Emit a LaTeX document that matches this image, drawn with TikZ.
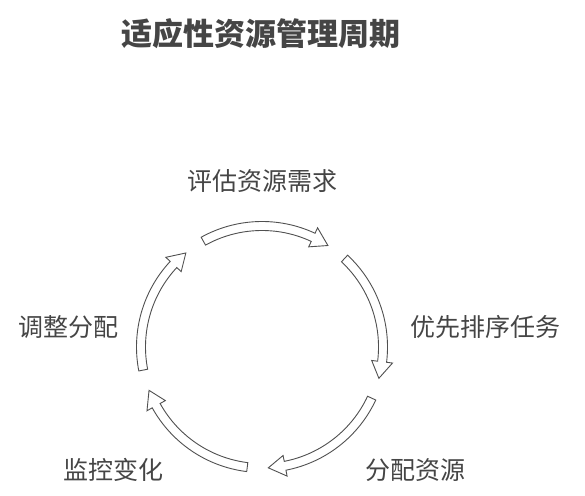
\documentclass[tikz,border=0pt]{standalone}
\usepackage{fontspec}
\setmainfont{Noto Sans CJK SC}
\definecolor{labelgray}{HTML}{454545}
\definecolor{arrowgray}{HTML}{505050}
\tikzstyle{cyclearrow}=[draw=arrowgray,fill=white,line width=0.9pt,line join=miter]
\tikzstyle{steplabel}=[text=labelgray,inner sep=0pt,font=\fontsize{25}{30}\selectfont]
\tikzstyle{titlelabel}=[text=labelgray,inner sep=0pt,font=\fontsize{31}{36}\selectfont\bfseries]
\newcommand{\drawcyclearrow}[2]{% Syntax: {tail angle}{tip angle}, clockwise
\pgfmathsetmacro{\headbase}{#2+8}
\draw[cyclearrow] (#1:\radius+\halfwidth) arc (#1:\headbase:\radius+\halfwidth)
  -- (\headbase:\radius+\headwidth) -- (#2:\radius) -- (\headbase:\radius-\headwidth)
  -- (\headbase:\radius-\halfwidth) arc (\headbase:#1:\radius-\halfwidth) -- cycle;
}

\begin{document}
\begin{tikzpicture}[x=1pt,y=1pt]
	\useasboundingbox (0,0) rectangle (585,495);
	% title
	\node[titlelabel] (title) at (261,461) {适应性资源管理周期};
	\begin{scope}[shift={(262,148)}]
	\pgfmathsetmacro{\radius}{121}
	\pgfmathsetmacro{\halfwidth}{4.5}
	\pgfmathsetmacro{\headwidth}{10.5}
	% five arrows of the cycle
	\foreach \i in {0,...,4} {
		\pgfmathsetmacro{\tail}{119-72*\i}
		\pgfmathsetmacro{\tip}{57-72*\i}
		\drawcyclearrow{\tail}{\tip}
	}
	\end{scope}
	% step labels
	\node[steplabel] (assess) at (262,314) {评估资源需求};
	\node[steplabel] (prioritize) at (485,168) {优先排序任务};
	\node[steplabel] (allocate) at (415,25) {分配资源};
	\node[steplabel] (monitor) at (113,25) {监控变化};
	\node[steplabel] (adjust) at (68,168) {调整分配};
\end{tikzpicture}
\end{document}
